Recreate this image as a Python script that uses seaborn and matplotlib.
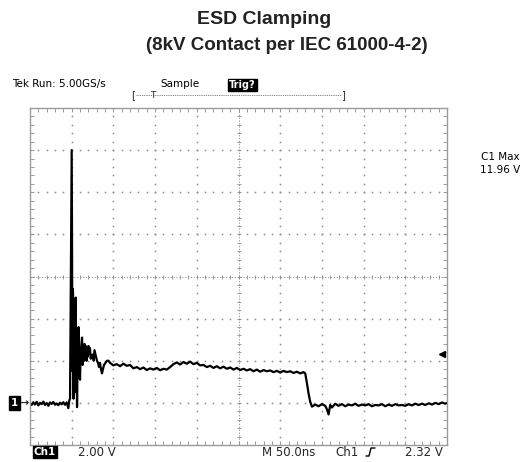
import numpy as np
import pandas as pd
import seaborn as sns
import matplotlib.pyplot as plt
from matplotlib.lines import Line2D

# Scope settings
volts_per_div = 2.00
ns_per_div = 50.0
trig_level = 2.32
ch1_max = 11.96

# Ch1 trace, time in ns from left edge, volts from Ch1 ground
t_base = [0, 2, 4, 6, 8, 10, 12, 14, 16, 18, 20, 22, 24, 26, 28, 30, 32, 34, 36, 38, 40, 42, 44, 46, 47]
v_base = [-0.02, -0.10, 0.03, -0.08, 0.05, -0.12, 0.00, -0.06, 0.06, -0.10, -0.01, -0.14, 0.02,
          -0.05, 0.04, -0.09, -0.03, -0.11, 0.01, -0.07, 0.03, -0.09, 0.02, -0.25, 0.10]

t_spike = [48, 49.2, 50.0, 50.3, 50.6, 50.9, 51.1, 51.4, 51.6, 51.9, 52.2, 52.5, 52.8, 53.1, 53.4,
           53.7, 54.0, 54.4, 54.8, 55.1, 55.5, 56.0, 56.4, 56.8, 57.1, 57.6, 58.2, 58.6, 59.1,
           60.0, 60.6, 61.2, 62.4, 63.0, 63.6, 64.7, 65.3, 66.0, 67.1, 67.7, 68.3, 69.5, 70.1,
           70.7, 71.9, 72.8, 73.7, 75.5, 76.4, 77.3, 79.1, 80.3, 81.5, 82.7, 83.9, 85.1, 86.3,
           87.5, 88.7, 90.5, 92.3, 94.1]
v_spike = [0.2, 7.0, 12.0, 8.5, 6.5, 1.5, 2.0, 5.4, 5.2, 0.4, 0.2, 4.8, 4.6, 0.6, 1.0,
           4.2, 3.8, 1.2, 5.0, 0.8, 0.5, 2.6, -0.2, 1.4, 2.4, 1.2, 3.6, 2.0, 1.6,
           1.1, 2.4, 2.6, 3.1, 1.8, 2.0, 2.0, 2.8, 2.6, 2.7, 2.0, 2.2, 2.2, 2.7,
           2.6, 2.6, 2.1, 2.2, 2.3, 2.0, 2.5, 2.2, 2.0, 1.9, 1.7, 1.9, 1.6, 1.4,
           1.6, 1.8, 1.9, 2.0, 2.0]

t_plateau = [96, 100, 104, 108, 112, 116, 120, 124, 128, 132, 136, 140, 144, 148, 152, 156, 160,
             164, 168, 172, 176, 180, 184, 188, 192, 196, 200, 204, 208, 212, 216, 220, 224, 228,
             232, 236, 240, 244, 248, 252, 256, 260, 264, 268, 272, 276, 280, 284, 288, 292, 296,
             300, 304, 308, 312, 316, 320, 324, 328]
v_plateau = [1.90, 1.78, 1.84, 1.74, 1.86, 1.76, 1.80, 1.64, 1.70, 1.60, 1.68, 1.56, 1.64, 1.58,
             1.66, 1.55, 1.62, 1.58, 1.70, 1.84, 1.92, 1.82, 1.94, 1.86, 1.96, 1.84, 1.90, 1.78,
             1.80, 1.70, 1.76, 1.66, 1.74, 1.64, 1.72, 1.62, 1.68, 1.58, 1.66, 1.56, 1.62, 1.54,
             1.60, 1.50, 1.58, 1.48, 1.56, 1.50, 1.54, 1.46, 1.52, 1.44, 1.52, 1.46, 1.50, 1.42,
             1.48, 1.40, 1.46]

t_fall = [330, 332, 334, 336, 338]
v_fall = [1.40, 0.95, 0.45, 0.05, -0.18]

t_tail = [342, 346, 350, 354, 356, 358, 360, 362, 366, 370, 374, 378, 382, 386, 390, 394, 398,
          402, 406, 410, 414, 418, 422, 426, 430, 434, 438, 442, 446, 450, 454, 458, 462, 466,
          470, 474, 478, 482, 486, 490, 494, 498, 500]
v_tail = [-0.08, -0.16, -0.06, -0.14, -0.30, -0.55, -0.10, -0.22, -0.04, -0.14, -0.06, -0.16,
          -0.08, -0.12, -0.04, -0.14, -0.08, -0.12, -0.06, -0.16, -0.10, -0.12, -0.06, -0.16,
          -0.08, -0.14, -0.06, -0.12, -0.10, -0.14, -0.06, -0.12, -0.04, -0.10, -0.04, -0.10,
          -0.02, -0.08, 0.00, -0.06, 0.02, -0.04, 0.00]

df = pd.DataFrame({
    "t": t_base + t_spike + t_plateau + t_fall + t_tail,
    "v": v_base + v_spike + v_plateau + v_fall + v_tail,
})

sns.set_style("white")
plt.rcParams['font.family'] = ['DejaVu Sans']

fig = plt.figure(figsize=(5.23, 4.62), dpi=100)
ax = fig.add_axes([30 / 523, 1 - 445 / 462, 417 / 523, 337 / 462])

t_min, t_max = 0, 10 * ns_per_div
v_min, v_max = -1 * volts_per_div, 7 * volts_per_div
v_mid = (v_min + v_max) / 2
t_mid = (t_min + t_max) / 2
grid_col = "#8a8a8a"

# graticule dots
for gv in np.arange(v_min + volts_per_div, v_max, volts_per_div):
    if np.isclose(gv, v_mid):
        continue
    xs = np.arange(t_min, t_max + 0.1, ns_per_div / 5)
    ax.plot(xs, np.full_like(xs, gv), ls="none", marker="s", ms=1.1, color=grid_col, mew=0)
for gt in np.arange(t_min + ns_per_div, t_max, ns_per_div):
    if np.isclose(gt, t_mid):
        continue
    ys = np.arange(v_min, v_max + 0.01, volts_per_div / 5)
    ax.plot(np.full_like(ys, gt), ys, ls="none", marker="s", ms=1.1, color=grid_col, mew=0)

# centre cross with small ticks
ax.axhline(v_mid, color=grid_col, lw=0.6, ls=(0, (1.5, 2)))
ax.axvline(t_mid, color=grid_col, lw=0.6, ls=(0, (1.5, 2)))
xs = np.arange(t_min, t_max + 0.1, ns_per_div / 5)
ax.plot(xs, np.full_like(xs, v_mid), ls="none", marker="|", ms=3, color=grid_col, mew=0.6)
ys = np.arange(v_min, v_max + 0.01, volts_per_div / 5)
ax.plot(np.full_like(ys, t_mid), ys, ls="none", marker="_", ms=3, color=grid_col, mew=0.6)

sns.lineplot(data=df, x="t", y="v", ax=ax, color="black", lw=1.6,
             estimator=None, sort=False)

# trigger level arrow on the right edge
ax.plot([t_max - 6], [trig_level], marker="<", ms=4, color="black")

ax.set_xlim(t_min, t_max)
ax.set_ylim(v_min, v_max)
ax.set_xlabel("")
ax.set_ylabel("")
ax.set_xticks(np.arange(t_min, t_max + 0.1, ns_per_div / 5))
ax.set_yticks(np.arange(v_min, v_max + 0.01, volts_per_div / 5))
ax.tick_params(direction="in", length=3, width=0.6, color=grid_col,
               top=True, right=True, bottom=True, left=True,
               labelbottom=False, labelleft=False)
for s in ax.spines.values():
    s.set_color("#9a9a9a")
    s.set_linewidth(1.0)

# title
fig.text(264 / 523, 1 - 19 / 462, "ESD Clamping", ha="center", va="center",
         fontsize=14, fontweight="bold", family="Liberation Sans", color="#222222")
fig.text(287 / 523, 1 - 46 / 462, "(8kV Contact per IEC 61000-4-2)", ha="center", va="center",
         fontsize=13.5, fontweight="bold", family="Liberation Sans", color="#222222")

# scope status line
fig.text(12 / 523, 1 - 84 / 462, "Tek Run: 5.00GS/s", ha="left", va="center", fontsize=7.5,
         color="black")
fig.text(160 / 523, 1 - 84 / 462, "Sample", ha="left", va="center", fontsize=7.5, color="black")
fig.text(229 / 523, 1 - 85 / 462, "Trig?", ha="left", va="center", fontsize=7, color="white",
         fontweight="bold", bbox=dict(boxstyle="square,pad=0.1", fc="black", ec="black"))

# record view bracket
by = 1 - 95 / 462
fig.add_artist(Line2D([136 / 523, 341 / 523], [by, by], color="#555555", lw=0.6,
                      ls=(0, (1, 1.2))))
fig.text(133 / 523, by, "[", ha="center", va="center", fontsize=7)
fig.text(343 / 523, by, "]", ha="center", va="center", fontsize=7)
fig.text(153 / 523, by, "T", ha="center", va="center", fontsize=6.5)

# right readout
fig.text(520 / 523, 1 - 157 / 462, "C1 Max", ha="right", va="center", fontsize=7.5,
         color="black")
fig.text(520 / 523, 1 - 170 / 462, f"{ch1_max:.2f} V", ha="right", va="center", fontsize=7.5,
         color="black")

# Ch1 ground marker
gy = 1 - 403 / 462
fig.text(11 / 523, gy, "1", ha="left", va="center", fontsize=7.5, color="white",
         fontweight="bold", bbox=dict(boxstyle="square,pad=0.2", fc="black", ec="black"))
fig.text(19 / 523, gy, "\u2192", ha="left", va="center", fontsize=8, fontweight="bold")

# bottom readout
ly = 1 - 452 / 462
fig.text(34 / 523, ly, "Ch1", ha="left", va="center", fontsize=7.5, color="white",
         fontweight="bold", bbox=dict(boxstyle="square,pad=0.1", fc="black", ec="black"))
fig.text(78 / 523, ly, f"{volts_per_div:.2f} V", ha="left", va="center", fontsize=8.5)
fig.text(262 / 523, ly, f"M {ns_per_div:.1f}ns", ha="left", va="center", fontsize=8.5)
fig.text(335 / 523, ly, "Ch1", ha="left", va="center", fontsize=8.5)
ex, ey = 366 / 523, ly
fig.add_artist(Line2D([ex, ex + 3 / 523, ex + 5 / 523, ex + 9 / 523],
                      [ey - 4 / 462, ey - 4 / 462, ey + 4 / 462, ey + 4 / 462],
                      color="black", lw=1.0))
fig.text(443 / 523, ly, f"{trig_level:.2f} V", ha="right", va="center", fontsize=8.5)

fig.savefig("out.png", dpi=100)
